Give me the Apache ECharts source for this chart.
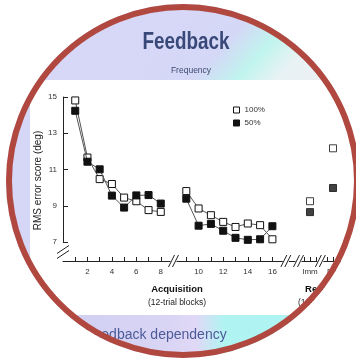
<!DOCTYPE html>
<html><head><meta charset="utf-8">
<script src="https://cdn.jsdelivr.net/npm/echarts@6/dist/echarts.min.js"></script>
<style>html,body{margin:0;padding:0;background:#fff}#c{width:356px;height:361px}</style>
</head><body><div id="c"></div>
<script>
// ---- data ----
const acqBlocks1 = [1, 2, 3, 4, 5, 6, 7, 8];
const acqBlocks2 = [9, 10, 11, 12, 13, 14, 15, 16];
const open100Acq1 = [14.81, 11.66, 10.47, 10.2, 9.45, 9.25, 8.76, 8.66];
const filled50Acq1 = [14.24, 11.43, 11.01, 9.56, 8.9, 9.57, 9.59, 9.12];
const open100Acq2 = [9.81, 8.85, 8.48, 8.11, 7.83, 8.02, 7.93, 7.15];
const filled50Acq2 = [9.39, 7.9, 8.0, 7.62, 7.23, 7.12, 7.15, 7.87];
const retentionTests = ['Imm', 'Del'];
const retentionPos = [1, 2];
const open100Ret = [9.25, 12.17];
const filled50Ret = [8.65, 9.98];
const xTickLabels1 = [2, 4, 6, 8];
const xTickLabels2 = [10, 12, 14, 16];
const retTicks = [0.75, 1, 1.25, 1.75, 2, 2.25];
const seriesNames = ['100%', '50%'];

// ---- layout / style ----
const FONT = 'Liberation Sans, Arial, sans-serif';
const yMin = 7, yMax = 15, yInterval = 2;
const xOffset = 19;
const axisColor = '#222';
const CX = 183, CY = 181, R = 174;

const chart = echarts.init(document.getElementById('c'));
const pairs = (xs, ys) => xs.map((x, i) => [x, ys[i]]);
const openItem = {color: '#fff', borderColor: '#111', borderWidth: 1};
const fillItem = {color: '#111', borderColor: '#111', borderWidth: 1};
const lineSt = {color: '#555', width: 1};

const yAxes = [0, 1, 2].map(i => ({
  gridIndex: i, type: 'value', min: yMin, max: yMax, interval: yInterval,
  show: i === 0,
  axisLine: {show: true, lineStyle: {color: axisColor, width: 1}},
  axisTick: {show: true, inside: true, length: 5, lineStyle: {color: axisColor}},
  axisLabel: {fontSize: 8, color: '#333', margin: 6, fontFamily: FONT},
  splitLine: {show: false},
  name: i === 0 ? 'RMS error score (deg)' : '',
  nameLocation: 'middle', nameRotate: 90, nameGap: 20,
  nameTextStyle: {fontSize: 10, color: '#222', fontFamily: FONT, padding: [0, 22, 0, 0]}
}));

function xAxisDef(gi, min, max, ticks, labels, fmt) {
  return {
    gridIndex: gi, type: 'value', min: min, max: max, offset: xOffset, position: 'bottom',
    axisLine: {show: true, onZero: false, lineStyle: {color: axisColor, width: 1}},
    axisTick: {show: true, inside: true, length: 4, customValues: ticks, lineStyle: {color: axisColor}},
    axisLabel: {customValues: labels, fontSize: 8, color: '#333', margin: 7, fontFamily: FONT,
      formatter: fmt || (v => String(v))},
    splitLine: {show: false}
  };
}

function lineSeries(name, gi, xs, ys, item, z) {
  return {name: name, type: 'line', xAxisIndex: gi, yAxisIndex: gi, data: pairs(xs, ys),
    symbol: 'rect', symbolSize: 7, itemStyle: item, lineStyle: lineSt, z: z, silent: true};
}

const option = {
  animation: false,
  grid: [
    {left: 63, top: 97, width: 110, height: 145},
    {left: 174, top: 97, width: 110.7, height: 145},
    {left: 287, top: 97, width: 75, height: 145}
  ],
  xAxis: [
    xAxisDef(0, 0, 9, acqBlocks1, xTickLabels1),
    xAxisDef(1, 8, 17, acqBlocks2, xTickLabels2),
    xAxisDef(2, 0, 3, retTicks, retentionPos, v => retentionTests[retentionPos.indexOf(v)] || '')
  ],
  yAxis: yAxes,
  legend: {
    left: 228, top: 101, orient: 'vertical', itemWidth: 6, itemHeight: 6, itemGap: 5,
    textStyle: {fontSize: 8, color: '#333', fontFamily: FONT},
    data: [
      {name: seriesNames[0], icon: 'rect', itemStyle: openItem},
      {name: seriesNames[1], icon: 'rect', itemStyle: fillItem}
    ]
  },
  title: [
    {text: 'Frequency', left: 186, top: 61, textAlign: 'center',
      textStyle: {fontSize: 8.5, fontWeight: 'normal', color: '#3c4a70', fontFamily: FONT}},
    {text: 'Acquisition', left: 172, top: 279, textAlign: 'center',
      textStyle: {fontSize: 9.5, fontWeight: 'bold', color: '#111', fontFamily: FONT}},
    {text: '(12-trial blocks)', left: 172, top: 293, textAlign: 'center',
      textStyle: {fontSize: 8.5, fontWeight: 'normal', color: '#222', fontFamily: FONT}},
    {text: 'Retention', left: 322, top: 279, textAlign: 'center',
      textStyle: {fontSize: 9.5, fontWeight: 'bold', color: '#111', fontFamily: FONT}},
    {text: '(12-trial blocks)', left: 322, top: 293, textAlign: 'center',
      textStyle: {fontSize: 8.5, fontWeight: 'normal', color: '#222', fontFamily: FONT}},
    {text: 'Feedback dependency', left: 80, top: 323,
      textStyle: {fontSize: 14, fontWeight: 'normal', color: '#4d5a98', fontFamily: FONT}}
  ],
  series: [
    lineSeries(seriesNames[0], 0, acqBlocks1, open100Acq1, openItem, 3),
    lineSeries(seriesNames[1], 0, acqBlocks1, filled50Acq1, fillItem, 4),
    lineSeries(seriesNames[0], 1, acqBlocks2, open100Acq2, openItem, 3),
    lineSeries(seriesNames[1], 1, acqBlocks2, filled50Acq2, fillItem, 4),
    {name: seriesNames[0], type: 'scatter', xAxisIndex: 2, yAxisIndex: 2, data: pairs(retentionPos, open100Ret),
      symbol: 'rect', symbolSize: 7, itemStyle: openItem, z: 3},
    {name: seriesNames[1], type: 'scatter', xAxisIndex: 2, yAxisIndex: 2, data: pairs(retentionPos, filled50Ret),
      symbol: 'rect', symbolSize: 7, itemStyle: fillItem, z: 4}
  ]
};
chart.setOption(option);

// ---- decorations computed from the axes ----
const px = (gi, x, y) => chart.convertToPixel({xAxisIndex: gi, yAxisIndex: gi}, [x, y]);
const axisY = px(0, 0, yMin)[1] + xOffset;
const els = [];

// backgrounds
els.push({type: 'rect', z: -10, shape: {x: 0, y: 0, width: 356, height: 361}, style: {fill: '#d6d6f6'}});
els.push({type: 'rect', z: -9, shape: {x: 0, y: 0, width: 356, height: 80},
  style: {fill: new echarts.graphic.LinearGradient(200, 0, 320, 108, [
    {offset: 0, color: '#d7d7f7'}, {offset: 0.3, color: '#d4d8f6'}, {offset: 0.5, color: '#c0f4ee'},
    {offset: 0.68, color: '#e8f2f4'}, {offset: 1, color: '#eeeff3'}], true)}});
els.push({type: 'rect', z: -9, shape: {x: 30, y: 80, width: 326, height: 236}, style: {fill: '#ffffff'}});
els.push({type: 'rect', z: -9, shape: {x: 0, y: 315, width: 356, height: 46},
  style: {fill: new echarts.graphic.LinearGradient(0, 0, 356, 0, [
    {offset: 0, color: '#ccccf2'}, {offset: 0.45, color: '#d8d4f4'}, {offset: 0.55, color: '#e0d8f6'},
    {offset: 0.63, color: '#b0f4f2'}, {offset: 0.78, color: '#aef4f2'}, {offset: 0.9, color: '#c8e8f4'},
    {offset: 1, color: '#d0d4f4'}], true)}});

// title
els.push({type: 'text', z: 20, x: 186, y: 31, scaleX: 0.82,
  style: {text: 'Feedback', fill: '#384878', font: 'bold 23px ' + FONT, textAlign: 'center', textVerticalAlign: 'top'}});

// axis breaks
function hBreak(cx, cy) {
  els.push({type: 'rect', z: 30, shape: {x: cx - 3, y: cy - 2, width: 6, height: 4}, style: {fill: '#fff'}});
  [-2, 2].forEach(d => els.push({type: 'line', z: 31,
    shape: {x1: cx + d - 3, y1: cy + 6, x2: cx + d + 3, y2: cy - 6}, style: {stroke: axisColor, lineWidth: 1}}));
}
const b1 = (px(0, 9, yMin)[0] + px(1, 8, yMin)[0]) / 2;
const b2 = (px(1, 17, yMin)[0] + px(2, 0, yMin)[0]) / 2;
hBreak(b1, axisY);
hBreak(b2, axisY);
hBreak(px(2, 0.5, yMin)[0], axisY);
hBreak(px(2, 1.45, yMin)[0], axisY);
// y-axis break at bottom-left corner
const yb = px(0, 0, yMin);
[-2.5, 2.5].forEach(d => els.push({type: 'line', z: 31,
  shape: {x1: yb[0] - 6, y1: yb[1] + 10 + d + 4, x2: yb[0] + 6, y2: yb[1] + 10 + d - 4},
  style: {stroke: axisColor, lineWidth: 1}}));

// circular crop
els.push({type: 'circle', z: 100, shape: {cx: CX, cy: CY, r: R + 103}, style: {fill: 'none', stroke: '#fff', lineWidth: 200}});
els.push({type: 'circle', z: 101, shape: {cx: CX, cy: CY, r: R}, style: {fill: 'none', stroke: '#b04840', lineWidth: 6}});

chart.setOption({graphic: {elements: els}});
</script></body></html>
